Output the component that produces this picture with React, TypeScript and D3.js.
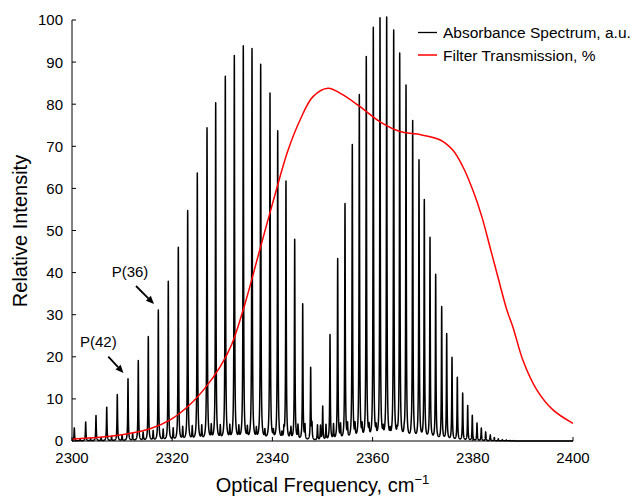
import React, { useMemo } from 'react';
import * as d3 from 'd3';

// Strong band line list (cm^-1) and peak heights (a.u.)
const mainLinePositions = [
  2300.46, 2302.73, 2304.79, 2306.93, 2309.04, 2311.18, 2313.23, 2315.23, 2317.23, 2319.22,
  2321.22, 2323.09, 2325.01, 2326.95, 2328.68, 2330.6, 2332.4, 2334.19, 2335.93, 2337.66,
  2339.52, 2341.06, 2342.71, 2344.45, 2346.05, 2347.64,
  2350.04, 2351.5, 2353.03, 2354.49, 2355.95, 2357.35, 2358.74, 2360.14, 2361.48, 2362.81,
  2364.21, 2365.41, 2366.67, 2368.0, 2369.26, 2370.32, 2371.46, 2372.59, 2373.79, 2374.79,
  2375.85, 2376.91, 2377.98, 2378.98, 2379.9, 2380.84, 2381.7, 2382.57, 2383.49, 2384.29,
  2385.09, 2385.89, 2386.69, 2387.43, 2388.1,
];
const mainLineHeights = [
  3.1, 4.5, 6.0, 8.0, 11.0, 14.7, 19.0, 24.7, 31.0, 37.8,
  45.8, 54.5, 63.4, 74.1, 80.0, 86.3, 91.2, 93.5, 92.8, 89.1,
  82.3, 73.1, 61.4, 47.6, 32.3, 17.1,
  8.0, 25.0, 43.0, 56.0, 69.9, 81.7, 90.7, 97.6, 99.8, 100,
  96.9, 91.4, 83.9, 75.5, 66.1, 56.7, 47.9, 39.2, 31.6, 25.2,
  19.6, 14.9, 11.2, 8.3, 6.0, 4.2, 3.0, 2.1, 1.4, 0.8,
  0.5, 0.3, 0.2, 0.12, 0.08,
];

// Weak (hot band) line list
const weakLinePositions = [
  2301.6, 2303.7, 2305.8, 2307.9, 2310.0, 2312.1, 2314.2, 2316.2, 2318.2, 2320.2,
  2322.1, 2324.0, 2325.9, 2327.8, 2329.6, 2331.5, 2333.3, 2335.0, 2336.8, 2338.5,
  2340.2, 2341.9, 2343.5, 2345.2,
  2340.9, 2342.3, 2343.7, 2345.1, 2346.5, 2347.9, 2349.0, 2349.6, 2350.7, 2352.2,
  2353.6, 2355.0, 2356.5, 2357.9, 2359.3, 2360.7, 2362.1, 2363.5, 2364.9, 2366.3,
  2367.7, 2369.1, 2370.5, 2371.9,
];
const weakLineHeights = [
  0.5, 0.6, 0.8, 1.0, 1.3, 1.6, 1.9, 2.2, 2.5, 2.7,
  2.9, 3.0, 3.1, 3.1, 3.0, 2.9, 2.7, 2.5, 2.2, 1.9,
  1.6, 1.3, 1.1, 0.9,
  1.3, 2.0, 2.6, 3.0, 3.3, 3.5, 3.6, 3.4, 3.6, 3.5,
  3.3, 3.1, 2.9, 2.6, 2.3, 2.0, 1.7, 1.4, 1.1, 0.8,
  0.6, 0.45, 0.3, 0.2,
];

// Filter transmission curve (%)
const filterWavenumbers = [
  2300.0, 2305.6, 2310.6, 2315.6, 2319.6, 2323.5, 2326.5, 2329.5, 2331.9, 2334.5,
  2337.5, 2341.1, 2343.1, 2345.5, 2348.1, 2351.1, 2354.1, 2357.5, 2361.5, 2365.5,
  2368.9, 2373.5, 2376.0, 2378.0, 2380.0, 2381.8, 2383.4, 2385.0, 2386.8, 2388.0,
  2390.0, 2392.8, 2396.0, 2400.0,
];
const filterTransmission = [
  0.5, 0.9, 1.6, 2.9, 5.0, 8.6, 12.5, 17.5, 23.0, 32.5,
  45.5, 61.0, 69.0, 76.2, 81.8, 83.8, 82.2, 79.4, 75.8, 73.5,
  72.9, 71.5, 69.1, 65.2, 59.6, 53.3, 46.2, 39.0, 31.1, 27.1,
  19.2, 12.1, 7.4, 4.2,
];

const xTicks = [2300, 2320, 2340, 2360, 2380, 2400];
const yTicks = [0, 10, 20, 30, 40, 50, 60, 70, 80, 90, 100];
const legendLabels = ['Absorbance Spectrum, a.u.', 'Filter Transmission, %'];

const W = 632;
const H = 497;
const PL = 72, PR = 573, PT = 20, PB = 441;
const FONT = '"Liberation Sans", Arial, Helvetica, sans-serif';
const HWHM = 0.065;

export default function App() {
  const x = d3.scaleLinear().domain([2300, 2400]).range([PL, PR]);
  const y = d3.scaleLinear().domain([0, 100]).range([PB, PT]);

  const specPath = useMemo(() => {
    const lines = mainLinePositions
      .map((p, i) => ({ p, h: mainLineHeights[i] }))
      .concat(weakLinePositions.map((p, i) => ({ p, h: weakLineHeights[i] })));
    const grid = d3.range(0, 10001).map((i) => 2300 + i * 0.01)
      .concat(lines.map((l) => l.p))
      .sort((a, b) => a - b);
    const g2 = HWHM * HWHM;
    const pts: [number, number][] = grid.map((w) => [
      w,
      d3.sum(lines, (l) => (l.h * g2) / ((w - l.p) * (w - l.p) + g2)),
    ]);
    return d3.line<[number, number]>()
      .x((d) => x(d[0]))
      .y((d) => y(d[1]))(pts) as string;
  }, []);

  const filterPath = d3.line<number>()
    .x((d, i) => x(filterWavenumbers[i]))
    .y((d) => y(d))
    .curve(d3.curveCatmullRom.alpha(0.5))(filterTransmission) as string;

  const arrow = (x1: number, y1: number, x2: number, y2: number) => {
    const ang = Math.atan2(y2 - y1, x2 - x1);
    const L = 8, Wd = 3.5;
    const bx = x2 - L * Math.cos(ang), by = y2 - L * Math.sin(ang);
    const px = -Math.sin(ang) * Wd, py = Math.cos(ang) * Wd;
    return (
      <g>
        <line x1={x1} y1={y1} x2={bx} y2={by} stroke="#000" strokeWidth={1.8} />
        <polygon points={`${x2},${y2} ${bx + px},${by + py} ${bx - px},${by - py}`} fill="#000" />
      </g>
    );
  };

  return (
    <svg width={W} height={H} style={{ position: 'absolute', left: 0, top: 0, background: '#fff' }} fontFamily={FONT}>
      <rect x={0} y={0} width={W} height={H} fill="#fff" />
      {/* spectrum */}
      <path d={specPath} fill="none" stroke="#000" strokeWidth={1.5} strokeLinejoin="round" />
      {/* filter */}
      <path d={filterPath} fill="none" stroke="#ff0000" strokeWidth={1.5} />

      {/* axes */}
      <line x1={PL} y1={PT} x2={PL} y2={PB} stroke="#000" strokeWidth={1} />
      <line x1={PL} y1={PB} x2={PR} y2={PB} stroke="#000" strokeWidth={1} />
      {yTicks.map((t) => (
        <g key={'y' + t}>
          <line x1={PL} x2={PL + 4} y1={y(t)} y2={y(t)} stroke="#000" strokeWidth={1} />
          <text x={63} y={y(t)} dy="0.36em" textAnchor="end" fontSize={15}>{t}</text>
        </g>
      ))}
      {xTicks.map((t) => (
        <g key={'x' + t}>
          <line x1={x(t)} x2={x(t)} y1={PB} y2={PB - 4} stroke="#000" strokeWidth={1} />
          <text x={x(t)} y={462.5} textAnchor="middle" fontSize={15}>{t}</text>
        </g>
      ))}

      {/* axis titles */}
      <text x={322.5} y={492} textAnchor="middle" fontSize={20}>
        Optical Frequency, cm<tspan dy={-8} fontSize={13}>−1</tspan>
      </text>
      <text transform="translate(27,231) rotate(-90)" textAnchor="middle" fontSize={20}>Relative Intensity</text>

      {/* annotations */}
      <text x={111.7} y={277} fontSize={15}>P(36)</text>
      {arrow(136, 286, 154, 304)}
      <text x={80} y={347} fontSize={15}>P(42)</text>
      {arrow(108.3, 356.7, 123.5, 373)}

      {/* legend */}
      <line x1={418} x2={437} y1={32.5} y2={32.5} stroke="#000" strokeWidth={1.3} />
      <text x={443} y={38.3} fontSize={15.5}>{legendLabels[0]}</text>
      <line x1={418} x2={437} y1={55} y2={55} stroke="#ff0000" strokeWidth={1.5} />
      <text x={443} y={60.5} fontSize={15.5}>{legendLabels[1]}</text>
    </svg>
  );
}
